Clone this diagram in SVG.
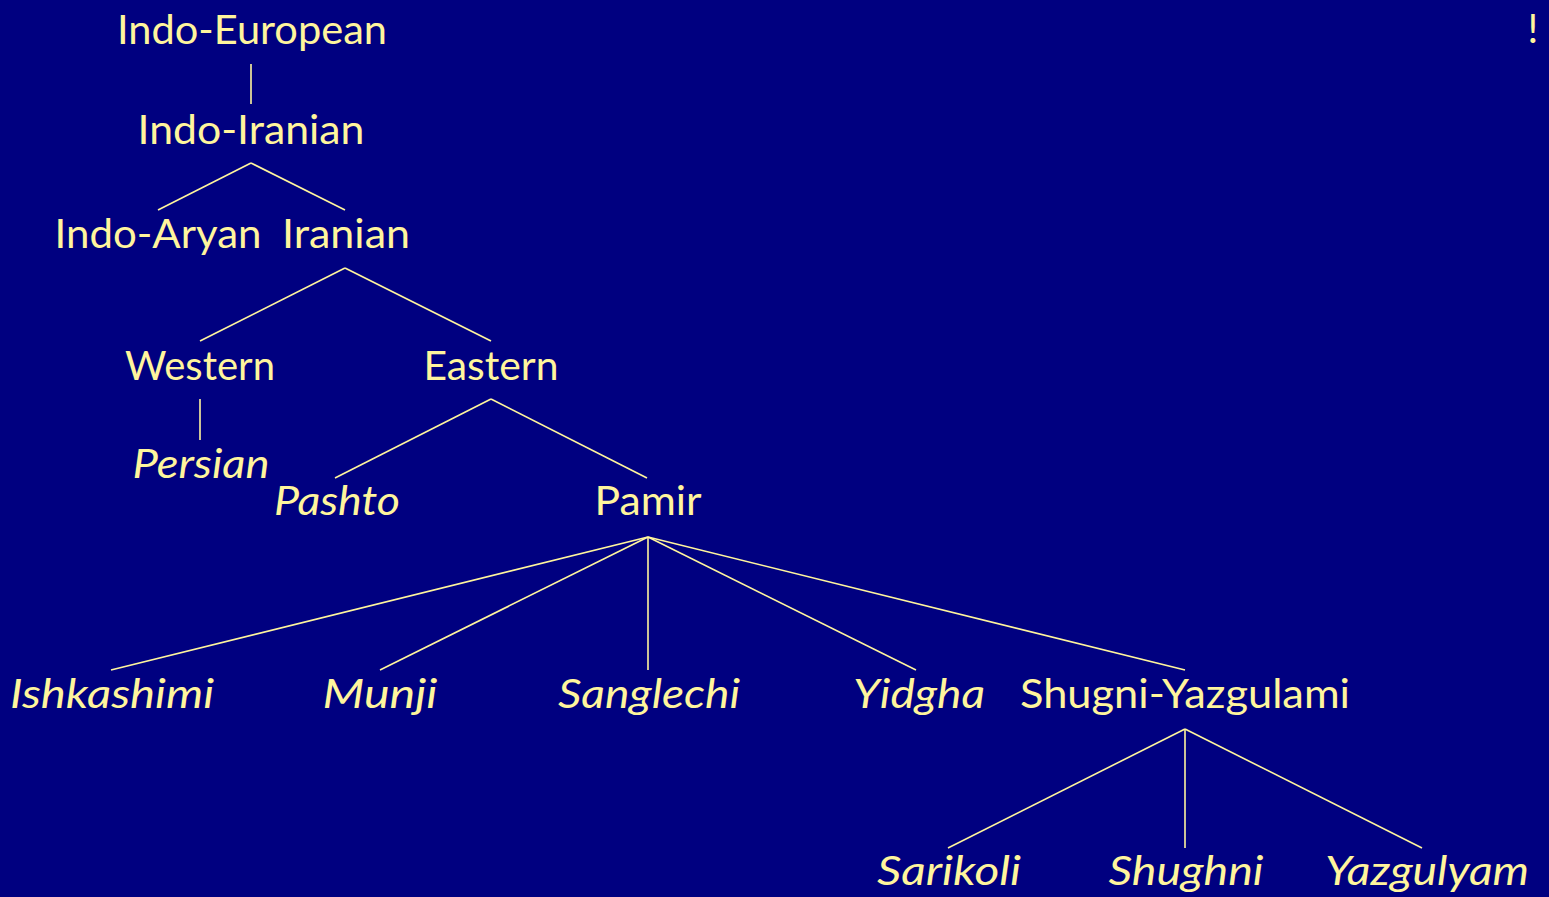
<svg xmlns="http://www.w3.org/2000/svg" width="1549" height="897" viewBox="0 0 1549 897">
<style>
text{font-family:Lato,"Noto Sans","Liberation Sans",sans-serif;font-size:40px;fill:#FFF59D;text-anchor:middle}
.i{font-style:italic}
#edges line{stroke:#FFF59D;stroke-width:1.6}
</style>
<rect width="1549" height="897" fill="#000080"/>
<g id="edges">
<line x1="251" y1="64" x2="251" y2="104"/>
<line x1="251" y1="163" x2="158" y2="210"/>
<line x1="251" y1="163" x2="345" y2="210"/>
<line x1="345" y1="268" x2="200" y2="341"/>
<line x1="345" y1="268" x2="491" y2="341"/>
<line x1="200" y1="399" x2="200" y2="440"/>
<line x1="491" y1="399" x2="335" y2="478"/>
<line x1="491" y1="399" x2="647" y2="478"/>
<line x1="648" y1="537" x2="111" y2="670"/>
<line x1="648" y1="537" x2="380" y2="670"/>
<line x1="648" y1="537" x2="648" y2="670"/>
<line x1="648" y1="537" x2="916" y2="670"/>
<line x1="648" y1="537" x2="1185" y2="670"/>
<line x1="1185" y1="729" x2="948" y2="848"/>
<line x1="1185" y1="729" x2="1185" y2="848"/>
<line x1="1185" y1="729" x2="1422" y2="848"/>
</g>
<g id="n-indoeuropean"><text x="252" y="44" textLength="270" lengthAdjust="spacingAndGlyphs">Indo-European</text></g>
<g id="n-indoiranian"><text x="251" y="144" textLength="227" lengthAdjust="spacingAndGlyphs">Indo-Iranian</text></g>
<g id="n-indoaryan"><text x="158" y="248" textLength="207" lengthAdjust="spacingAndGlyphs">Indo-Aryan</text></g>
<g id="n-iranian"><text x="346" y="248" textLength="128" lengthAdjust="spacingAndGlyphs">Iranian</text></g>
<g id="n-western"><text x="200" y="380" textLength="150" lengthAdjust="spacingAndGlyphs">Western</text></g>
<g id="n-eastern"><text x="491" y="380" textLength="135" lengthAdjust="spacingAndGlyphs">Eastern</text></g>
<g id="n-persian"><text class="i" x="201" y="478" textLength="137" lengthAdjust="spacingAndGlyphs">Persian</text></g>
<g id="n-pashto"><text class="i" x="337" y="515" textLength="126" lengthAdjust="spacingAndGlyphs">Pashto</text></g>
<g id="n-pamir"><text x="648" y="515" textLength="107" lengthAdjust="spacingAndGlyphs">Pamir</text></g>
<g id="n-ishkashimi"><text class="i" x="112" y="708" textLength="204" lengthAdjust="spacingAndGlyphs">Ishkashimi</text></g>
<g id="n-munji"><text class="i" x="380" y="708" textLength="115" lengthAdjust="spacingAndGlyphs">Munji</text></g>
<g id="n-sanglechi"><text class="i" x="649" y="708" textLength="182" lengthAdjust="spacingAndGlyphs">Sanglechi</text></g>
<g id="n-yidgha"><text class="i" x="919" y="708" textLength="132" lengthAdjust="spacingAndGlyphs">Yidgha</text></g>
<g id="n-shugniyazgulami"><text x="1185" y="708" textLength="330" lengthAdjust="spacingAndGlyphs">Shugni-Yazgulami</text></g>
<g id="n-sarikoli"><text class="i" x="949" y="885" textLength="144" lengthAdjust="spacingAndGlyphs">Sarikoli</text></g>
<g id="n-shughni"><text class="i" x="1186" y="885" textLength="155" lengthAdjust="spacingAndGlyphs">Shughni</text></g>
<g id="n-yazgulyam"><text class="i" x="1427" y="885" textLength="204" lengthAdjust="spacingAndGlyphs">Yazgulyam</text></g>
<g id="n-excl"><text x="1533" y="43">!</text></g>
</svg>
